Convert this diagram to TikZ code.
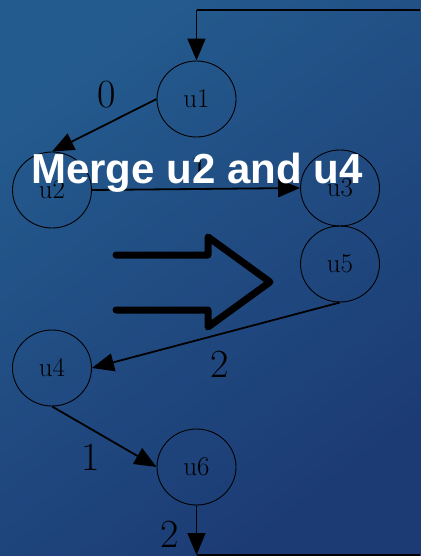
\documentclass[tikz,border=0pt]{standalone}
\usepackage{fontspec}
\newfontfamily\headfont{Liberation Sans}
\usetikzlibrary{shapes.geometric,arrows.meta}
\definecolor{bgStart}{HTML}{245B8E}
\definecolor{bgMid}{HTML}{10508A}
\definecolor{bgEnd}{HTML}{1C3A74}
\begin{document}
\begin{tikzpicture}[x=1pt,y=-1pt,
  vertex/.style={draw=black,line width=0.9pt,ellipse,inner sep=0pt,
    minimum width=79pt,minimum height=76pt,font=\fontsize{27}{30}\selectfont},
  edge/.style={draw=black,line width=1.8pt,-{Triangle[length=22pt,width=18pt]}},
  plain/.style={draw=black,line width=1.8pt},
  weight/.style={font=\fontsize{40}{44}\selectfont,inner sep=0pt},
  bigarrow/.style={draw=black,line width=7pt,line cap=round,line join=round},
  caption/.style={text=white,font=\headfont\bfseries\fontsize{42}{48}\selectfont,inner sep=0pt,anchor=base}]
  % page frame first, then a background a little larger than it
  \useasboundingbox (0,0) rectangle (420,556);
  \shade[left color=bgStart,middle color=bgMid,right color=bgEnd,shading angle=37]
    (-6,-6) rectangle (426,562);

  % graph nodes
  \node[vertex] (u1) at (196.5,99) {u1};
  \node[vertex] (u2) at (52,190) {u2};
  \node[vertex] (u3) at (340,188) {u3};
  \node[vertex] (u5) at (340,264) {u5};
  \node[vertex] (u4) at (52,368) {u4};
  \node[vertex] (u6) at (196.5,467) {u6};

  % loose ends of the edge leaving and entering the frame
  \coordinate (topR) at (420,10);
  \coordinate (topL) at (196.5,10);
  \coordinate (botL) at (196.5,555);
  \coordinate (botR) at (420,555);

  % edges
  \draw[plain] (topR) -- (topL);
  \draw[edge] (topL) -- (u1.north);
  \draw[edge] (u1.west) -- (u2.north);
  \draw[edge] (u2.east) -- (u3.west);
  \draw[edge] (u5.south) -- (u4.east);
  \draw[edge] (u4.south) -- (u6.west);
  \draw[edge] (u6.south) -- (botL);
  \draw[plain] (botL) -- (botR);

  % edge weights
  \node[weight] (w0) at (107,95) {0};
  \node[weight] (w1) at (200,169) {1};
  \node[weight] (w2) at (220,364) {2};
  \node[weight] (w3) at (91,457) {1};
  \node[weight] (w4) at (170,534) {2};

  % merge arrow
  \draw[bigarrow] (116,255) -- (208,255) -- (208,237) -- (270,282)
    -- (208,327) -- (208,310) -- (116,310);

  % caption
  \node[caption] (cap) at (197,183) {Merge u2 and u4};
\end{tikzpicture}
\end{document}
